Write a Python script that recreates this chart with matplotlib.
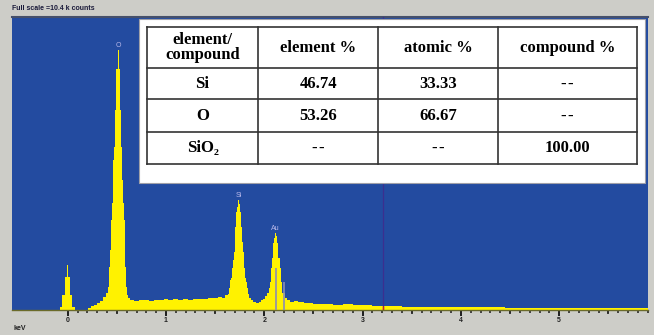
import matplotlib.pyplot as plt
import numpy as np
from matplotlib.patches import Rectangle

# EDS spectrum (keV, counts)
energy_kev = [
    -0.08, -0.07, -0.06, -0.05, -0.04, -0.03, -0.02, -0.01, 0.00, 0.01, 0.02, 0.03, 0.04, 0.05, 0.06, 0.07, 0.08,
    0.20, 0.22, 0.25, 0.28, 0.31, 0.34, 0.37, 0.40, 0.42, 0.43, 0.44, 0.45, 0.46, 0.47, 0.48, 0.49, 0.50, 0.51,
    0.52, 0.53, 0.54, 0.55, 0.56, 0.57, 0.58, 0.59, 0.60, 0.61, 0.62, 0.65, 0.70, 0.75, 0.80, 0.85, 0.90, 0.95,
    1.00, 1.05, 1.10, 1.15, 1.20, 1.25, 1.30, 1.35, 1.40, 1.45, 1.50, 1.55, 1.58, 1.62, 1.64, 1.65, 1.66, 1.67,
    1.68, 1.69, 1.70, 1.71, 1.72, 1.73, 1.74, 1.75, 1.76, 1.77, 1.78, 1.79, 1.80, 1.81, 1.82, 1.83, 1.84, 1.85,
    1.87, 1.90, 1.93, 1.96, 1.98, 2.00, 2.02, 2.04, 2.05, 2.06, 2.07, 2.08, 2.09, 2.10, 2.11, 2.12, 2.13, 2.14,
    2.15, 2.16, 2.17, 2.18, 2.19, 2.20, 2.22, 2.24, 2.28, 2.32, 2.36, 2.45, 2.55, 2.65, 2.75, 2.85, 2.95, 3.05,
    3.15, 3.30, 3.50, 3.70, 4.00, 4.30, 4.60, 5.00, 5.50, 5.90,
]
counts = [
    0, 110, 110, 530, 530, 530, 1170, 1170, 1600, 1170, 1170, 530, 530, 110, 110, 110, 0,
    0, 70, 140, 180, 250, 320, 460, 600, 820, 1530, 2130, 3200, 3800, 5330, 5790, 7100, 8560, 8560,
    9230, 8560, 7100, 5790, 4620, 3800, 3200, 1530, 820, 530, 430, 360, 320, 360, 360, 320, 360, 360,
    390, 360, 390, 360, 390, 360, 390, 390, 390, 430, 430, 460, 430, 530, 570, 780, 1070, 1140,
    1490, 1780, 2060, 2950, 3480, 3660, 3900, 3760, 3480, 2950, 2410, 2060, 1490, 1140, 990, 780, 570, 430,
    360, 280, 250, 280, 360, 390, 500, 600, 780, 990, 1490, 1850, 2380, 2560, 2730, 2630, 2380, 1850,
    1850, 1490, 990, 990, 600, 600, 430, 360, 280, 320, 280, 250, 210, 210, 180, 210, 180, 180,
    140, 140, 110, 110, 110, 110, 70, 70, 70, 70,
]

full_scale = 10400
peak_labels = ["O", "Si", "Au"]
peak_kev = [0.515, 1.745, 2.11]
peak_counts = [9230, 3900, 2730]
marker_kev = [2.123, 2.204]
marker_counts = [1490, 990]
cursor_kev = 3.21

dash = "-\u200a-"
table_header = ["element/\ncompound", "element %", "atomic %", "compound %"]
table_rows = [
    ["Si", "46.74", "33.33", dash],
    ["O", "53.26", "66.67", dash],
    ["SiO₂", dash, dash, "100.00"],
]

W, H = 654, 335
blue = "#234ba0"
yellow = "#fff200"

fig = plt.figure(figsize=(W / 100, H / 100), dpi=100, facecolor="#cdcdc8")

# spectrum panel, placed in pixel units of the screenshot
left, right, top, bottom = 12, 648, 17, 310
ax = fig.add_axes([left / W, 1 - bottom / H, (right - left) / W, (bottom - top) / H])
ax.set_facecolor(blue)
ax.fill_between(energy_kev, counts, step="mid", color=yellow, lw=0, zorder=2)
ax.vlines(marker_kev, 0, marker_counts, color="#8c8cb4", lw=1.2, zorder=3)
ax.axvline(cursor_kev, color="#3b2f8f", lw=0.9, zorder=3)
ax.vlines(cursor_kev, 0, 150, color="#d42020", lw=1.0, zorder=4)
for name, x, y in zip(peak_labels, peak_kev, peak_counts):
    ax.annotate(name, (x, y), xytext=(0, 1), textcoords="offset points", ha="center", va="bottom",
                fontsize=5, color="#b8b8ea", family="Liberation Sans", zorder=4)

ax.set_xlim((left - 67.7) / 98.3, (right - 67.7) / 98.3)
ax.set_ylim(0, full_scale)
ax.set_yticks([])
ax.set_xticks(range(0, 6))
ax.set_xticks(np.arange(0, 6.0, 0.1), minor=True)
ax.tick_params(axis="x", which="major", length=4.3, width=1.4, color="#1e1e1e", pad=0.8,
               labelsize=5, labelcolor="#222222")
ax.tick_params(axis="x", which="minor", length=2.0, width=1.2, color="#2a2a2a")
for lbl in ax.get_xticklabels():
    lbl.set_fontweight("bold")
    lbl.set_family("Liberation Sans")
half = ax.secondary_xaxis("bottom")
half.set_xticks(np.arange(0.5, 6.0, 1.0))
half.tick_params(length=3.2, width=1.2, color="#1e1e1e", labelbottom=False)
half.spines["bottom"].set_visible(False)
for side in ["left", "right"]:
    ax.spines[side].set_visible(False)
ax.spines["bottom"].set_color("#6b6b2a")
ax.spines["bottom"].set_linewidth(1.0)
ax.spines["top"].set_color("#46506a")
ax.spines["top"].set_linewidth(1.5)

# overlay in pixel coordinates for the table and screen captions
ov = fig.add_axes([0, 0, 1, 1])
ov.set_xlim(0, W)
ov.set_ylim(H, 0)
ov.axis("off")
ov.patch.set_visible(False)

ov.text(12, 9, "Full scale =10.4 k counts", fontsize=5, fontweight="bold", color="#1a1a3a",
        family="Liberation Sans", va="center", ha="left")
ov.text(14, 329, "keV", fontsize=5, fontweight="bold", color="#222222", family="Liberation Sans",
        va="center", ha="left")

ov.add_patch(Rectangle((139, 19), 645 - 139, 183 - 19, facecolor="white", edgecolor="#a0a0a8", lw=0.8))

col_edges = [147, 258, 378, 498, 637]
row_edges = [27, 68, 99, 132, 164]
line_kw = dict(color="#333333", lw=1.2)
for x in col_edges:
    ov.plot([x, x], [row_edges[0], row_edges[-1]], **line_kw)
for y in row_edges:
    ov.plot([col_edges[0], col_edges[-1]], [y, y], **line_kw)

cell_font = dict(fontsize=12, fontweight="bold", family=["Liberation Serif", "DejaVu Serif"],
                 ha="center", va="center", color="black")
for r, row in enumerate([table_header] + table_rows):
    yc = (row_edges[r] + row_edges[r + 1]) / 2
    for c, txt in enumerate(row):
        xc = (col_edges[c] + col_edges[c + 1]) / 2
        ov.text(xc, yc, txt, linespacing=0.95, **cell_font)

fig.savefig("out.png", dpi=100, facecolor=fig.get_facecolor())
